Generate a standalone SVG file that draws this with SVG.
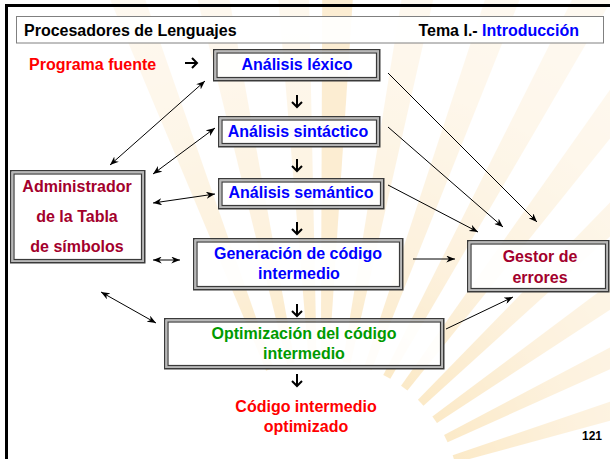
<svg xmlns="http://www.w3.org/2000/svg" xmlns:xlink="http://www.w3.org/1999/xlink" width="610" height="459" viewBox="0 0 610 459">
<defs>
<style>
text{font-family:"Liberation Sans",Arial,sans-serif;font-weight:bold;font-size:16px}
.c{text-anchor:middle}
.blue{fill:#0000ff}
.red{fill:#ff0000}
.dred{fill:#a3002c}
.green{fill:#009a00}
.blk{fill:#000}
.o1{fill:none;stroke:#3a3a3a;stroke-width:1.5}
.o2{fill:none;stroke:#b8b8b8;stroke-width:2}
.ib{fill:#ffffff;fill-opacity:0.9;stroke:#3a3a3a;stroke-width:1.2}
.ln{stroke:#000;stroke-width:1;fill:none}
.thk{stroke:#000;stroke-width:2;fill:none}
.ray{fill:url(#rg)}
</style>
<radialGradient id="rg" gradientUnits="userSpaceOnUse" cx="0" cy="0" r="620">
<stop offset="0.22" stop-color="#f4b43a"/>
<stop offset="0.42" stop-color="#f8d088"/>
<stop offset="0.68" stop-color="#fce3b8"/>
<stop offset="1" stop-color="#feefd6"/>
</radialGradient>
<polygon id="ray" points="-4,-140 -19,-620 19,-620 4,-140"/>
<marker id="ah" viewBox="0 0 10 8" refX="10" refY="4" markerWidth="9" markerHeight="7" orient="auto-start-reverse" markerUnits="userSpaceOnUse">
<path d="M0,0 L10,4 L0,8 L3,4 z" fill="#000"/>
</marker>
</defs>
<rect width="610" height="459" fill="#ffffff"/>
<g id="background-rays" class="ray" transform="translate(320,500)" opacity="0.28">
<use xlink:href="#ray" transform="rotate(-21)"/>
<use xlink:href="#ray" transform="rotate(-12)"/>
<use xlink:href="#ray" transform="rotate(-3)"/>
<use xlink:href="#ray" transform="rotate(2)" style="fill:#f5c060"/>
<use xlink:href="#ray" transform="rotate(11)"/>
<use xlink:href="#ray" transform="rotate(20)"/>
<use xlink:href="#ray" transform="rotate(28.5)"/>
<use xlink:href="#ray" transform="rotate(37)"/>
<use xlink:href="#ray" transform="rotate(46)"/>
<use xlink:href="#ray" transform="rotate(55)"/>
<use xlink:href="#ray" transform="rotate(64)"/>
<use xlink:href="#ray" transform="rotate(73)"/>
</g>
<path d="M6.5,459 V5.5 H610" stroke="#000" stroke-width="3" fill="none"/>
<g id="header">
<rect x="16.5" y="16.5" width="587" height="26.5" fill="#ffffff" fill-opacity="0.9" stroke="#808080" stroke-width="1"/>
<text x="24" y="36" class="blk">Procesadores de Lenguajes</text>
<text x="579" y="36" style="text-anchor:end" class="blk">Tema I.- <tspan class="blue">Introducción</tspan></text>
</g>
<g id="programa-fuente"><text x="29" y="70" class="red">Programa fuente</text></g>
<g id="lexico">
<rect class="o1" x="213.75" y="49.75" width="166" height="31"/>
<rect class="o2" x="215.5" y="51.5" width="162.5" height="27.5"/>
<rect class="ib" x="217" y="53" width="159.5" height="24.5"/>
<text x="297" y="70" class="c blue">Análisis léxico</text>
</g>
<g id="sintactico">
<rect class="o1" x="218.75" y="116.75" width="161" height="30"/>
<rect class="o2" x="220.5" y="118.5" width="157.5" height="26.5"/>
<rect class="ib" x="222" y="120" width="154.5" height="23.5"/>
<text x="298" y="137" class="c blue">Análisis sintáctico</text>
</g>
<g id="semantico">
<rect class="o1" x="218.75" y="178.75" width="165" height="30"/>
<rect class="o2" x="220.5" y="180.5" width="161.5" height="26.5"/>
<rect class="ib" x="222" y="182" width="158.5" height="23.5"/>
<text x="301" y="198" class="c blue">Análisis semántico</text>
</g>
<g id="generacion">
<rect class="o1" x="193.75" y="238.75" width="209" height="51"/>
<rect class="o2" x="195.5" y="240.5" width="205.5" height="47.5"/>
<rect class="ib" x="197" y="242" width="202.5" height="44.5"/>
<text x="298" y="259" class="c blue">Generación de código</text>
<text x="299" y="279" class="c blue">intermedio</text>
</g>
<g id="optimizacion">
<rect class="o1" x="164.75" y="318.75" width="279" height="50"/>
<rect class="o2" x="166.5" y="320.5" width="275.5" height="46.5"/>
<rect class="ib" x="168" y="322" width="272.5" height="43.5"/>
<text x="304" y="339" class="c green">Optimización del código</text>
<text x="304" y="359" class="c green">intermedio</text>
</g>
<g id="administrador">
<rect class="o1" x="10.75" y="170.75" width="134" height="92"/>
<rect class="o2" x="12.5" y="172.5" width="130.5" height="88.5"/>
<rect class="ib" x="14" y="174" width="127.5" height="85.5"/>
<text x="77" y="192" class="c dred">Administrador</text>
<text x="77" y="222" class="c dred">de la Tabla</text>
<text x="77" y="252" class="c dred">de símbolos</text>
</g>
<g id="gestor">
<rect class="o1" x="467.75" y="240.75" width="141" height="51"/>
<rect class="o2" x="469.5" y="242.5" width="137.5" height="47.5"/>
<rect class="ib" x="471" y="244" width="134.5" height="44.5"/>
<text x="540" y="262" class="c dred">Gestor de</text>
<text x="540" y="283" class="c dred">errores</text>
</g>
<g id="codigo-optimizado">
<text x="306" y="412" class="c red">Código intermedio</text>
<text x="306" y="432" class="c red">optimizado</text>
</g>
<text x="602" y="440" style="text-anchor:end;font-size:12px" class="blk">121</text>
<g id="connectors">
<path class="thk" d="M185,63 H197 M192,58 L197,63 L192,68"/>
<path class="thk" d="M297,95 V107 M292,102 L297,107 L302,102"/>
<path class="thk" d="M297,159 V171 M292,166 L297,171 L302,166"/>
<path class="thk" d="M297,222 V234 M292,229 L297,234 L302,229"/>
<path class="thk" d="M297,304 V316 M292,311 L297,316 L302,311"/>
<path class="thk" d="M297,374 V386 M292,381 L297,386 L302,381"/>
<line class="ln" x1="388" y1="73" x2="537" y2="222" marker-end="url(#ah)"/>
<line class="ln" x1="388" y1="127" x2="503" y2="227" marker-end="url(#ah)"/>
<line class="ln" x1="388" y1="185" x2="478" y2="232" marker-end="url(#ah)"/>
<line class="ln" x1="413" y1="259" x2="455" y2="259" marker-end="url(#ah)"/>
<line class="ln" x1="446" y1="329" x2="513" y2="297" marker-end="url(#ah)"/>
<line class="ln" x1="110" y1="165" x2="205" y2="81" marker-start="url(#ah)" marker-end="url(#ah)"/>
<line class="ln" x1="153" y1="174" x2="215" y2="128" marker-start="url(#ah)" marker-end="url(#ah)"/>
<line class="ln" x1="153" y1="203" x2="215" y2="194" marker-start="url(#ah)" marker-end="url(#ah)"/>
<line class="ln" x1="153" y1="260" x2="180" y2="260" marker-start="url(#ah)" marker-end="url(#ah)"/>
<line class="ln" x1="101" y1="292" x2="156" y2="323" marker-start="url(#ah)" marker-end="url(#ah)"/>
</g>
</svg>
